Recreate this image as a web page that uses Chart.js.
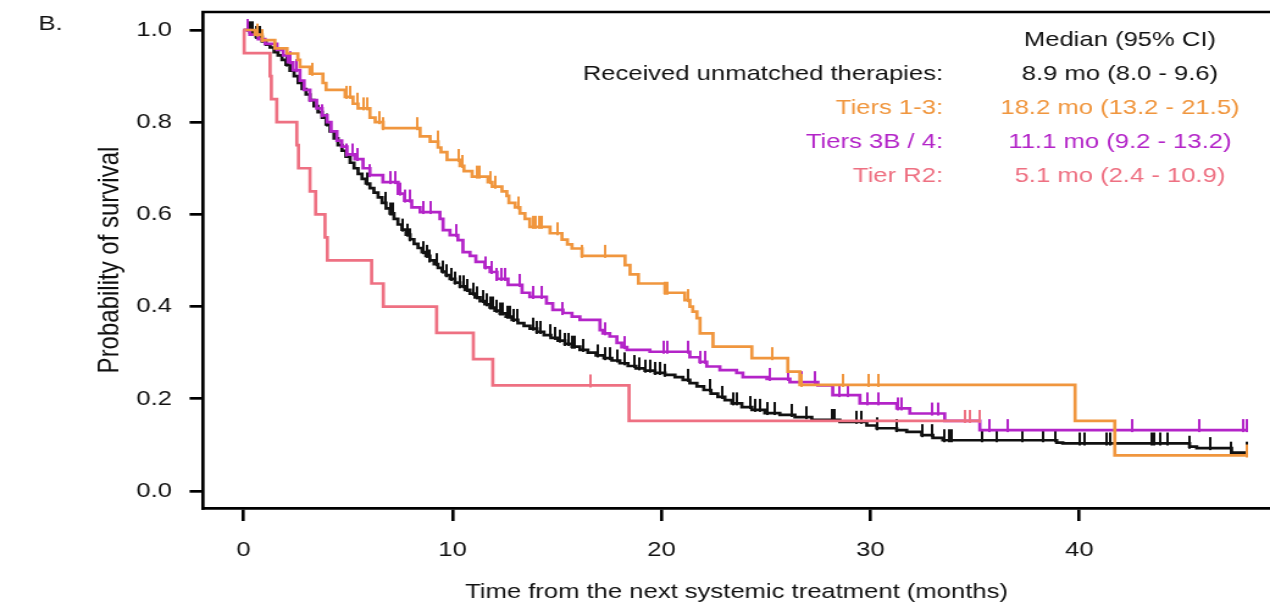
<!DOCTYPE html>
<html><head><meta charset="utf-8">
<script src="https://cdn.jsdelivr.net/npm/chart.js@4.4.1/dist/chart.umd.min.js"></script>
<style>
html,body{margin:0;padding:0;background:#fff;overflow:hidden;}
#c{display:block;}
</style></head><body>
<canvas id="c" width="1041" height="607" style="width:1270px;height:607px;"></canvas>
<script>
// ---------- data ----------
const xTicks = [0, 10, 20, 30, 40];
const yTicks = [0, 0.2, 0.4, 0.6, 0.8, 1.0];
const xTitle = 'Time from the next systemic treatment (months)';
const yTitle = 'Probability of survival';
const panelLabel = 'B.';
const medianHeader = 'Median (95% CI)';
const groupLabels = ['Received unmatched therapies:', 'Tiers 1-3:', 'Tiers 3B / 4:', 'Tier R2:'];
const groupMedians = ['8.9 mo (8.0 - 9.6)', '18.2 mo (13.2 - 21.5)', '11.1 mo (9.2 - 13.2)', '5.1 mo (2.4 - 10.9)'];

const blackT = [0,0.31,0.6,0.89,1.08,1.27,1.46,1.65,1.84,2.03,2.22,2.42,2.61,2.8,2.99,3.18,3.37,3.56,3.76,3.95,4.14,4.33,4.52,4.71,4.9,5.1,5.29,5.48,5.67,5.86,6.05,6.24,6.44,6.63,6.82,7.01,7.2,7.39,7.58,7.78,7.97,8.16,8.35,8.54,8.73,8.92,9.12,9.31,9.5,9.69,9.88,10.12,10.36,10.6,10.84,11.08,11.32,11.55,11.79,12.03,12.27,12.56,12.85,13.13,13.42,13.71,14.04,14.38,14.71,15.05,15.38,15.72,16.1,16.48,16.87,17.25,17.63,18.01,18.4,18.78,19.21,19.69,20.17,20.65,21.03,21.36,21.7,22.03,22.37,22.7,23.04,23.37,23.85,24.33,24.95,25.67,26.39,27.2,28.54,29.83,30.31,31.26,31.74,32.46,32.99,33.47,38.92,39.21,45.28,45.62,47.29,48.0];
const blackS = [1,0.995,0.985,0.975,0.968,0.962,0.952,0.945,0.935,0.925,0.912,0.9,0.885,0.872,0.86,0.848,0.835,0.822,0.81,0.795,0.78,0.765,0.75,0.738,0.725,0.712,0.70,0.688,0.677,0.667,0.657,0.647,0.637,0.625,0.613,0.602,0.59,0.578,0.567,0.556,0.546,0.536,0.527,0.518,0.51,0.50,0.492,0.484,0.476,0.468,0.46,0.452,0.444,0.436,0.428,0.42,0.412,0.405,0.398,0.391,0.385,0.378,0.371,0.364,0.358,0.352,0.345,0.338,0.332,0.326,0.319,0.313,0.306,0.30,0.294,0.288,0.283,0.277,0.271,0.266,0.261,0.256,0.252,0.247,0.241,0.234,0.227,0.219,0.211,0.204,0.197,0.19,0.182,0.176,0.169,0.165,0.16,0.154,0.15,0.142,0.136,0.132,0.128,0.121,0.115,0.11,0.105,0.103,0.096,0.093,0.083,0.083];
const blackCensor = [0.31,0.45,0.6,0.79,2.08,4.0,5.91,6.77,7.01,7.15,7.63,7.82,7.97,8.59,8.78,8.92,9.26,9.55,9.74,9.93,10.12,10.36,10.55,10.69,10.98,11.17,11.46,11.65,11.79,11.94,12.13,12.27,12.42,12.61,12.75,12.9,13.09,13.85,14.04,14.19,14.67,14.9,15.14,15.38,15.53,15.72,15.86,16.24,16.96,17.3,17.54,17.87,18.25,18.73,18.97,19.21,19.45,19.69,19.93,20.17,21.27,22.32,22.89,23.42,23.61,24.23,24.47,24.71,25.05,25.43,26.24,26.96,28.15,28.3,29.35,29.59,30.31,31.26,32.46,32.94,33.56,33.75,33.9,35.33,36.05,37.25,38.25,38.83,40.02,40.26,41.32,41.46,43.47,43.61,43.85,44.23,45.28,46.24,47.29,48.0];

const orangeT = [0,0.55,0.89,1.5,2.08,2.6,2.7,3.18,3.8,3.95,4.86,5.24,5.48,6.05,6.3,6.68,8.45,8.93,9.31,9.45,9.74,10.36,10.55,10.94,11.7,11.9,12.37,12.6,12.7,13.0,13.23,13.47,13.7,14.67,15.24,15.5,15.72,16.2,18.26,18.5,18.9,20.17,21.12,21.36,21.5,21.7,21.85,22.47,24.33,26.05,26.63,39.8,41.7,48.0];
const orangeS = [1,0.99,0.978,0.96,0.949,0.935,0.92,0.905,0.885,0.87,0.855,0.84,0.83,0.81,0.80,0.787,0.769,0.758,0.745,0.735,0.718,0.705,0.694,0.682,0.67,0.66,0.65,0.64,0.625,0.615,0.602,0.59,0.573,0.559,0.545,0.535,0.526,0.51,0.49,0.47,0.45,0.43,0.414,0.40,0.389,0.375,0.342,0.313,0.288,0.259,0.23,0.152,0.077,0.077];
const orangeCensor = [0.69,0.89,3.28,4.95,5.1,5.43,5.72,5.91,6.53,6.68,8.3,9.3,10.27,10.46,11.17,11.32,11.8,12.04,13.14,13.86,14.0,14.15,14.29,15.05,16.2,17.3,20.17,20.26,21.27,25.3,26.73,28.7,29.9,30.4,48.0];

const purpleT = [0,0.3,0.7,1.03,1.6,1.9,2.13,2.37,2.7,2.9,3.18,3.5,3.76,4.0,4.19,4.47,4.7,4.95,5.33,5.72,6.05,6.67,7.4,7.7,8.05,8.45,9.4,9.55,9.88,10.26,10.5,10.84,11.12,11.55,11.8,12.13,12.66,13.33,13.7,14.5,14.8,15.29,15.72,16.1,17.06,17.2,17.53,17.87,18.1,18.35,19.45,21.36,21.84,22.17,22.8,23.6,23.9,25.05,26.15,27.49,28.2,29.5,31.27,31.89,33.56,35.24,48.03];
const purpleS = [1,0.99,0.98,0.97,0.957,0.945,0.93,0.913,0.89,0.87,0.848,0.83,0.815,0.80,0.78,0.76,0.747,0.73,0.72,0.70,0.685,0.67,0.645,0.63,0.615,0.605,0.59,0.566,0.555,0.544,0.518,0.51,0.497,0.485,0.475,0.46,0.447,0.43,0.421,0.407,0.393,0.386,0.378,0.371,0.349,0.342,0.335,0.321,0.312,0.306,0.302,0.29,0.28,0.27,0.262,0.256,0.247,0.243,0.236,0.229,0.208,0.19,0.179,0.168,0.152,0.132,0.132];
const purpleCensor = [0.22,2.23,2.56,3.18,3.76,4.95,5.19,5.43,6.05,7.0,7.25,7.49,7.73,7.97,8.6,8.93,10.2,11.56,11.9,12.13,12.37,12.51,13.23,13.86,14.29,15.29,17.3,18.26,20.08,20.26,21.27,21.85,22.09,25.2,26.05,26.72,27.35,28.54,28.93,29.88,30.36,31.32,31.51,32.95,33.23,35.7,36.58,42.56,45.77,47.83,48.03];

const pinkT = [0,0.03,1.27,1.33,1.59,2.55,2.63,3.18,3.45,3.9,4.01,6.13,6.69,9.24,11.0,11.93,18.45,35.25];
const pinkS = [1,0.95,0.90,0.85,0.80,0.75,0.70,0.65,0.60,0.55,0.50,0.45,0.40,0.343,0.286,0.229,0.152,0.152];
const pinkCensor = [16.58,34.56,34.77,35.25];

// ---------- styling ----------
const FONT = "'Liberation Sans', Arial, Helvetica, sans-serif";
const BLACK = '#111111', ORANGE = '#F0963E', PURPLE = '#B324C8', PINK = '#EE7082';
const groupColors = [BLACK, ORANGE, PURPLE, PINK];

function toPts(T, S) { return T.map((t, i) => ({x: t, y: S[i]})); }
function survAt(T, S, t) { let s = S[0]; for (let i = 0; i < T.length; i++) { if (T[i] <= t + 1e-9) s = S[i]; } return s; }
function censorPts(C, T, S) { return C.map(t => ({x: t, y: survAt(T, S, t)})); }
function tickImg(color) {
  const c = document.createElement('canvas'); c.width = 2; c.height = 30;
  const g = c.getContext('2d'); g.fillStyle = color; g.fillRect(0, 4, 2, 13); return c;
}

const lineDs = (label, T, S, color, order) => ({
  label, data: toPts(T, S), borderColor: color, borderWidth: 2.7, stepped: 'before',
  pointRadius: 0, fill: false, order, borderJoinStyle: 'miter', borderCapStyle: 'butt'
});
const censDs = (label, C, T, S, color, order) => ({
  label, data: censorPts(C, T, S), showLine: false, pointStyle: tickImg(color),
  pointRadius: 3, pointHoverRadius: 3, order, clip: false
});

const framePlugin = {
  id: 'frameAndText',
  afterDraw(chart) {
    const ctx = chart.ctx, a = chart.chartArea;
    ctx.save();
    ctx.strokeStyle = '#000'; ctx.lineWidth = 2.7;
    ctx.beginPath(); ctx.moveTo(a.left - 1.35, a.top); ctx.lineTo(a.right, a.top); ctx.stroke();
    ctx.font = '21px ' + FONT; ctx.textBaseline = 'alphabetic';
    ctx.fillStyle = BLACK; ctx.textAlign = 'left';
    ctx.fillText(panelLabel, 31.5, 30);
    ctx.textAlign = 'center';
    ctx.fillText(medianHeader, 918, 45.5);
    groupLabels.forEach((lab, i) => {
      const y = 79.5 + 34 * i;
      ctx.fillStyle = groupColors[i];
      ctx.textAlign = 'right'; ctx.fillText(lab, 773, y);
      ctx.textAlign = 'center'; ctx.fillText(groupMedians[i], 918, y);
    });
    ctx.restore();
  }
};

new Chart(document.getElementById('c'), {
  type: 'line',
  data: { datasets: [
    lineDs('Tier R2', pinkT, pinkS, PINK, 1),
    censDs('Tier R2 censored', pinkCensor, pinkT, pinkS, PINK, 1),
    lineDs('Tiers 1-3', orangeT, orangeS, ORANGE, 2),
    censDs('Tiers 1-3 censored', orangeCensor, orangeT, orangeS, ORANGE, 2),
    lineDs('Tiers 3B / 4', purpleT, purpleS, PURPLE, 3),
    censDs('Tiers 3B / 4 censored', purpleCensor, purpleT, purpleS, PURPLE, 3),
    lineDs('Received unmatched therapies', blackT, blackS, BLACK, 4),
    censDs('Unmatched censored', blackCensor, blackT, blackS, BLACK, 4)
  ]},
  options: {
    responsive: false, animation: false, devicePixelRatio: 1, events: [],
    layout: { padding: { top: 12, left: 0, right: 0, bottom: 0 }, autoPadding: false },
    plugins: { legend: { display: false }, tooltip: { enabled: false } },
    scales: {
      x: {
        type: 'linear', position: 'bottom', min: -1.94, max: 49.13,
        afterBuildTicks: s => { s.ticks = xTicks.map(v => ({ value: v })); },
        afterFit: s => { s.height = 99; s.paddingLeft = 0; s.paddingRight = 0; },
        ticks: { autoSkip: false, maxRotation: 0, minRotation: 0, padding: 16.4, color: BLACK,
                 font: { size: 21, family: FONT }, callback: v => String(v) },
        grid: { drawOnChartArea: false, drawTicks: true, tickLength: 13, color: '#000', lineWidth: 2.6, tickWidth: 2.6 },
        border: { display: true, color: '#000', width: 2.7 },
        title: { display: true, text: xTitle, color: BLACK, font: { size: 21, family: FONT }, padding: { top: 0, bottom: 2.4 } }
      },
      y: {
        type: 'linear', position: 'left', min: -0.037, max: 1.039,
        afterBuildTicks: s => { s.ticks = yTicks.map(v => ({ value: v })); },
        afterFit: s => { s.width = 166.4; s.paddingTop = 0; s.paddingBottom = 0; },
        ticks: { autoSkip: false, padding: 14.4, color: BLACK, font: { size: 21, family: FONT },
                 callback: v => Number(v).toFixed(1) },
        grid: { drawOnChartArea: false, drawTicks: true, tickLength: 11, color: '#000', lineWidth: 2.7, tickWidth: 2.7 },
        border: { display: true, color: '#000', width: 2.7 },
        title: { display: true, text: yTitle, color: BLACK, font: { size: 24, family: FONT }, padding: { top: 75.8, bottom: 0 } }
      }
    }
  },
  plugins: [framePlugin]
});
</script></body></html>
